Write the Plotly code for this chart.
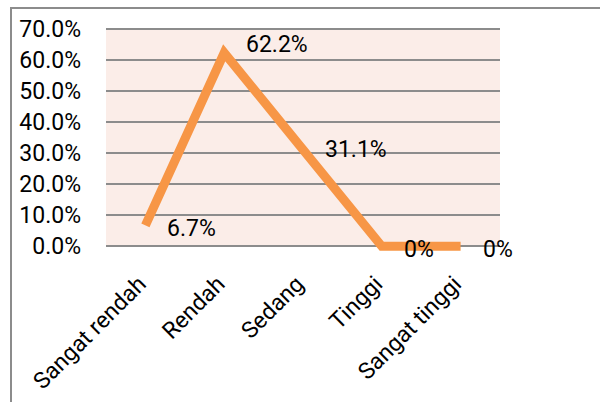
import plotly.graph_objects as go

categories = ["Sangat rendah", "Rendah", "Sedang", "Tinggi", "Sangat tinggi"]
values = [6.7, 62.2, 31.1, 0, 0]
value_labels = ["6.7%", "62.2%", "31.1%", "0%", "0%"]
y_ticks = [0, 10, 20, 30, 40, 50, 60, 70]
y_tick_labels = [f"{v:.1f}%" for v in y_ticks]

FONT = "Roboto, Lato, sans-serif"
GRID = "#8c8c8c"
ORANGE = "#F79646"
PINK = "#FBEDE8"

W, H = 600, 402
L, R, T, B = 106, 100, 27, 151
pw, ph = W - L - R, H - T - B


def px_to_paper_x(px):
    return (px - L) / pw


def px_to_paper_y(py):
    return (H - B - py) / ph


fig = go.Figure()
fig.add_trace(go.Scatter(
    x=categories, y=values, mode="lines",
    line=dict(color=ORANGE, width=9, shape="linear"),
    hoverinfo="skip", showlegend=False,
))

label_yshift = {1: 8, 2: 0}
annotations = []
for i, (c, v, t) in enumerate(zip(categories, values, value_labels)):
    annotations.append(dict(
        x=c, y=v, xref="x", yref="y", text=t, showarrow=False,
        xanchor="left", yanchor="middle", xshift=20, yshift=label_yshift.get(i, -3),
        font=dict(family=FONT, size=23, color="#000000"),
    ))

shapes = [
    dict(type="rect", xref="paper", yref="y", x0=0, x1=1, y0=0, y1=70,
         fillcolor=PINK, line=dict(width=0), layer="below"),
    dict(type="rect", xref="paper", yref="paper",
         x0=px_to_paper_x(11), x1=px_to_paper_x(620),
         y0=px_to_paper_y(420), y1=px_to_paper_y(8),
         line=dict(color=GRID, width=2), fillcolor="rgba(0,0,0,0)", layer="below"),
]

fig.update_layout(
    width=W, height=H,
    margin=dict(l=L, r=R, t=T, b=B, pad=0, autoexpand=False),
    paper_bgcolor="white", plot_bgcolor="rgba(0,0,0,0)",
    font=dict(family=FONT, color="#000000"),
    xaxis=dict(
        type="category", range=[-0.5, 4.5], showgrid=False, zeroline=False,
        showline=False, ticks="", tickangle=-45, automargin=False,
        ticklabelstandoff=14, ticklabelshift=-6,
        tickfont=dict(family=FONT, size=23, color="#000000"),
    ),
    yaxis=dict(
        range=[-1.5, 70.5], tickvals=y_ticks, ticktext=y_tick_labels,
        showgrid=True, gridcolor=GRID, gridwidth=1.5, zeroline=False,
        showline=False, ticks="", ticklabelstandoff=24, automargin=False,
        tickfont=dict(family=FONT, size=23, color="#000000"),
    ),
    shapes=shapes, annotations=annotations,
)

fig.write_html("out.html")
